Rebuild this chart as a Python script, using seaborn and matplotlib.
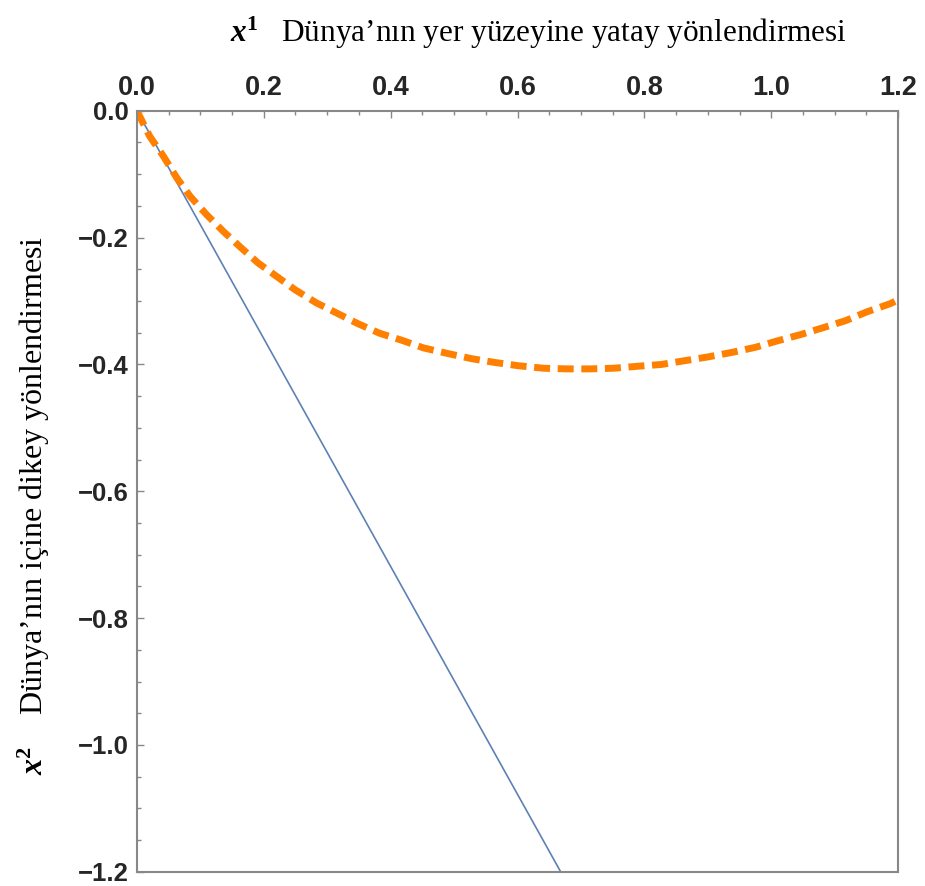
import numpy as np
import pandas as pd
import matplotlib
matplotlib.use('Agg')
import matplotlib.pyplot as plt
import seaborn as sns
from matplotlib.ticker import MultipleLocator

# values
line_x = [0.0, 0.668]
line_y = [0.0, -1.2]

curve_x = [0.0, 0.02, 0.042, 0.063, 0.084, 0.11, 0.136, 0.162, 0.191, 0.22, 0.249,
           0.283, 0.315, 0.349, 0.383, 0.418, 0.452, 0.491, 0.528, 0.565, 0.601,
           0.641, 0.678, 0.714, 0.751, 0.788, 0.827, 0.864, 0.901, 0.938, 0.975,
           1.009, 1.046, 1.082, 1.117, 1.151, 1.188, 1.2]
curve_y = [0.0, -0.04, -0.072, -0.106, -0.135, -0.164, -0.19, -0.214, -0.24, -0.261, -0.282,
           -0.303, -0.319, -0.336, -0.351, -0.362, -0.374, -0.383, -0.391, -0.397, -0.402,
           -0.406, -0.407, -0.407, -0.406, -0.403, -0.4, -0.394, -0.388, -0.381, -0.373,
           -0.363, -0.353, -0.342, -0.331, -0.317, -0.304, -0.298]

x_ticks = [0.0, 0.2, 0.4, 0.6, 0.8, 1.0, 1.2]
y_ticks = [0.0, -0.2, -0.4, -0.6, -0.8, -1.0, -1.2]

x_label = r"$\mathbfit{x}^{\mathbf{1}}$   Dünya’nın yer yüzeyine yatay yönlendirmesi"
y_label = r"$\mathbfit{x}^{\mathbf{2}}$    Dünya’nın içine dikey yönlendirmesi"

sns.set_theme(style='white')
plt.rcParams['font.family'] = ['Liberation Sans', 'DejaVu Sans']
plt.rcParams['mathtext.fontset'] = 'custom'
plt.rcParams['mathtext.rm'] = 'Liberation Serif'
plt.rcParams['mathtext.it'] = 'Liberation Serif:italic'
plt.rcParams['mathtext.bf'] = 'Liberation Serif:bold'
plt.rcParams['mathtext.bfit'] = 'Liberation Serif:bold:italic'

fig = plt.figure(figsize=(9.25, 8.86), dpi=100)
ax = fig.add_axes([0.148, 0.016, 0.823, 0.859])

line_df = pd.DataFrame({'x': line_x, 'y': line_y})
curve_df = pd.DataFrame({'x': curve_x, 'y': curve_y})

sns.lineplot(data=line_df, x='x', y='y', ax=ax, color='#5E81B5', linewidth=1.2, sort=False)
sns.lineplot(data=curve_df, x='x', y='y', ax=ax, color='#FF8000', linewidth=5, sort=False,
             dashes=False)
ax.lines[-1].set_dashes((2.3, 1.1))
ax.lines[-1].set_dash_capstyle('butt')

ax.set_xlim(0, 1.2)
ax.set_ylim(-1.2, 0)

ax.xaxis.tick_top()
ax.xaxis.set_label_position('top')
ax.set_xticks(x_ticks)
ax.set_yticks(y_ticks)
ax.xaxis.set_minor_locator(MultipleLocator(0.05))
ax.yaxis.set_minor_locator(MultipleLocator(0.05))
ax.set_xticklabels([f'{v:.1f}' for v in x_ticks], fontweight='bold', fontsize=19.5)
ax.set_yticklabels([f'{v:.1f}'.replace('-', '\u2212') for v in y_ticks], fontweight='bold', fontsize=18.5)

ax.tick_params(which='both', direction='in', color='#888888', width=1.0,
               top=True, bottom=False, left=True, right=False)
ax.tick_params(axis='x', which='major', length=5, pad=7)
ax.tick_params(axis='y', which='major', length=5, pad=6)
ax.tick_params(which='minor', length=3)

for s in ax.spines.values():
    s.set_color('#888888')
    s.set_linewidth(1.5)

ax.set_xlabel(x_label, fontsize=22.5, family='Liberation Serif', color='black')
ax.set_ylabel(y_label, fontsize=23, family='Liberation Serif', color='black')
ax.xaxis.set_label_coords(0.528, 1.09)
ax.yaxis.set_label_coords(-0.112, 0.482)

fig.savefig('out.png', dpi=100)
